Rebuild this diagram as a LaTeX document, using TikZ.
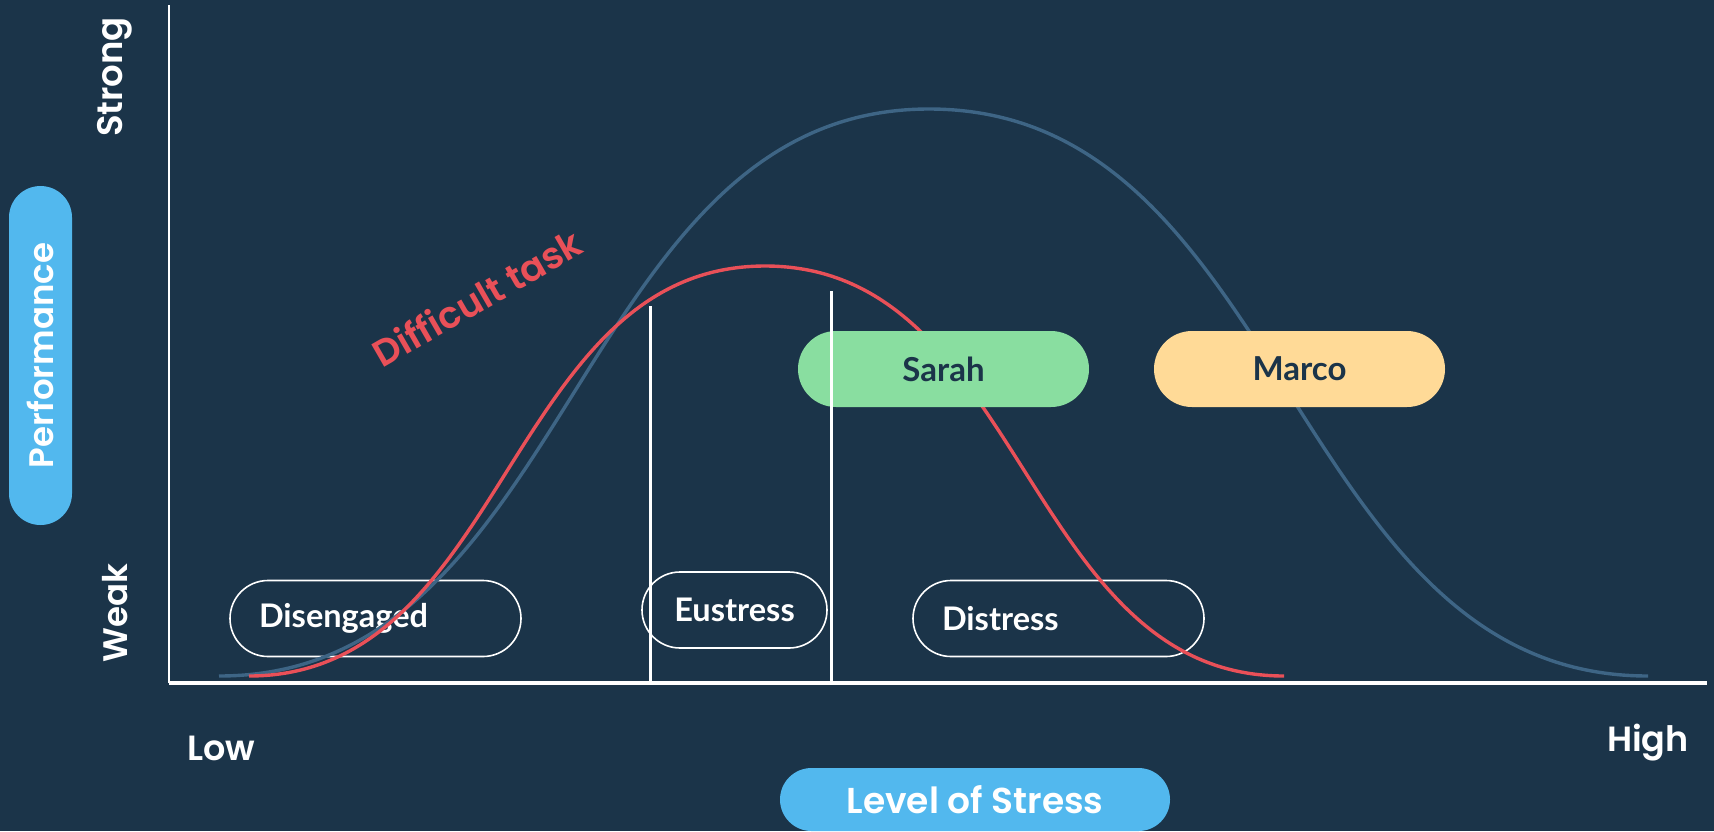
\documentclass[tikz,border=0pt]{standalone}
\usepackage{fontspec}
\usetikzlibrary{calc}
\newfontfamily\pop{Poppins}[UprightFont={* SemiBold}]
\newfontfamily\lato{Lato}
\definecolor{bg}{RGB}{27,52,73}
\definecolor{curveblue}{RGB}{62,101,133}
\definecolor{curvered}{RGB}{233,80,88}
\definecolor{pillblue}{RGB}{82,184,238}
\definecolor{pillgreen}{RGB}{137,222,160}
\definecolor{pillyellow}{RGB}{255,218,151}
\tikzset{
  pillbase/.style={rectangle, inner sep=0pt, outer sep=0pt},
  zone/.style={pillbase, draw=white, line width=1.6pt, text=white, minimum height=76pt, rounded corners=38pt,
    font=\lato\bfseries\fontsize{32.5}{32.5}\selectfont},
  person/.style={pillbase, minimum width=291pt, minimum height=76pt, rounded corners=38pt, text=bg,
    font=\lato\bfseries\fontsize{33}{33}\selectfont},
  axispill/.style={pillbase, fill=pillblue, text=white, minimum height=63pt, rounded corners=31.5pt},
  axistext/.style={text=white, inner sep=0pt},
  curve/.style={line width=3.4pt},
  divider/.style={white, line width=3pt}
}
\begin{document}
\begin{tikzpicture}[x=1pt,y=-1pt]
\fill[bg] (0,0) rectangle (1714,831);
\useasboundingbox (0,0) rectangle (1714,831);

% axes
\coordinate (ytop) at (169,5);
\coordinate (o) at (169,683);
\coordinate (xend) at (1707,683);
\draw[white, line width=1.6pt] (ytop) -- (o);
\draw[white, line width=3.5pt] (o) -- (xend);

% zone pills (outlines)
\node[zone, minimum width=291pt, text width=233pt, align=left] (dis) at (375.5,618.5) {Disengaged};
\node[zone, minimum width=185pt, align=center] (eus) at (734.5,610) {Eustress};
\node[zone, minimum width=291pt, text width=233pt, align=left] (distr) at (1058.5,618.5) {Distress};

% curves
\coordinate (b0) at (219,676);
\coordinate (bp) at (929,109);
\coordinate (b1) at (1648,676);
\draw[curve, curveblue] (b0) .. controls (574,676) and (574,109) .. (bp)
  .. controls (1288.5,109) and (1288.5,676) .. (b1);
\coordinate (r0) at (249,676);
\coordinate (rp) at (765,266);
\coordinate (r1) at (1284,676);
\draw[curve, curvered] (r0) .. controls (507,676) and (507,266) .. (rp)
  .. controls (1024.5,266) and (1024.5,676) .. (r1);

% person pills
\node[person, fill=pillgreen] (sarah) at (943.5,369) {Sarah};
\node[person, fill=pillyellow] (marco) at (1299.5,369) {Marco};

% dividers
\coordinate (d1t) at (650,306);
\coordinate (d1b) at (650,683);
\coordinate (d2t) at (831,291);
\coordinate (d2b) at (831,683);
\draw[divider] (d1t) -- (d1b);
\draw[divider] (d2t) -- (d2b);

% axis labels
\node[axistext, rotate=90, font=\pop\fontsize{35.5}{35.5}\selectfont] (strong) at (115,77) {Strong};
\node[axistext, rotate=90, font=\pop\fontsize{34}{34}\selectfont] (weak) at (115,613) {Weak};
\node[axispill, rotate=90, minimum width=339pt, font=\pop\fontsize{34}{34}\selectfont] (perf) at (40.5,355.5) {Performance};
\node[axispill, minimum width=390pt, font=\pop\fontsize{36}{36}\selectfont] (lvl) at (975,799.5) {Level of Stress};
\node[axistext, font=\pop\fontsize{35}{35}\selectfont] (low) at (221,748) {Low};
\node[axistext, font=\pop\fontsize{35}{35}\selectfont] (high) at (1648,743) {High};

\node[text=curvered, inner sep=0pt, rotate=30, font=\pop\fontsize{37}{37}\selectfont] (task) at (477,298) {Difficult task};
\end{tikzpicture}
\end{document}
